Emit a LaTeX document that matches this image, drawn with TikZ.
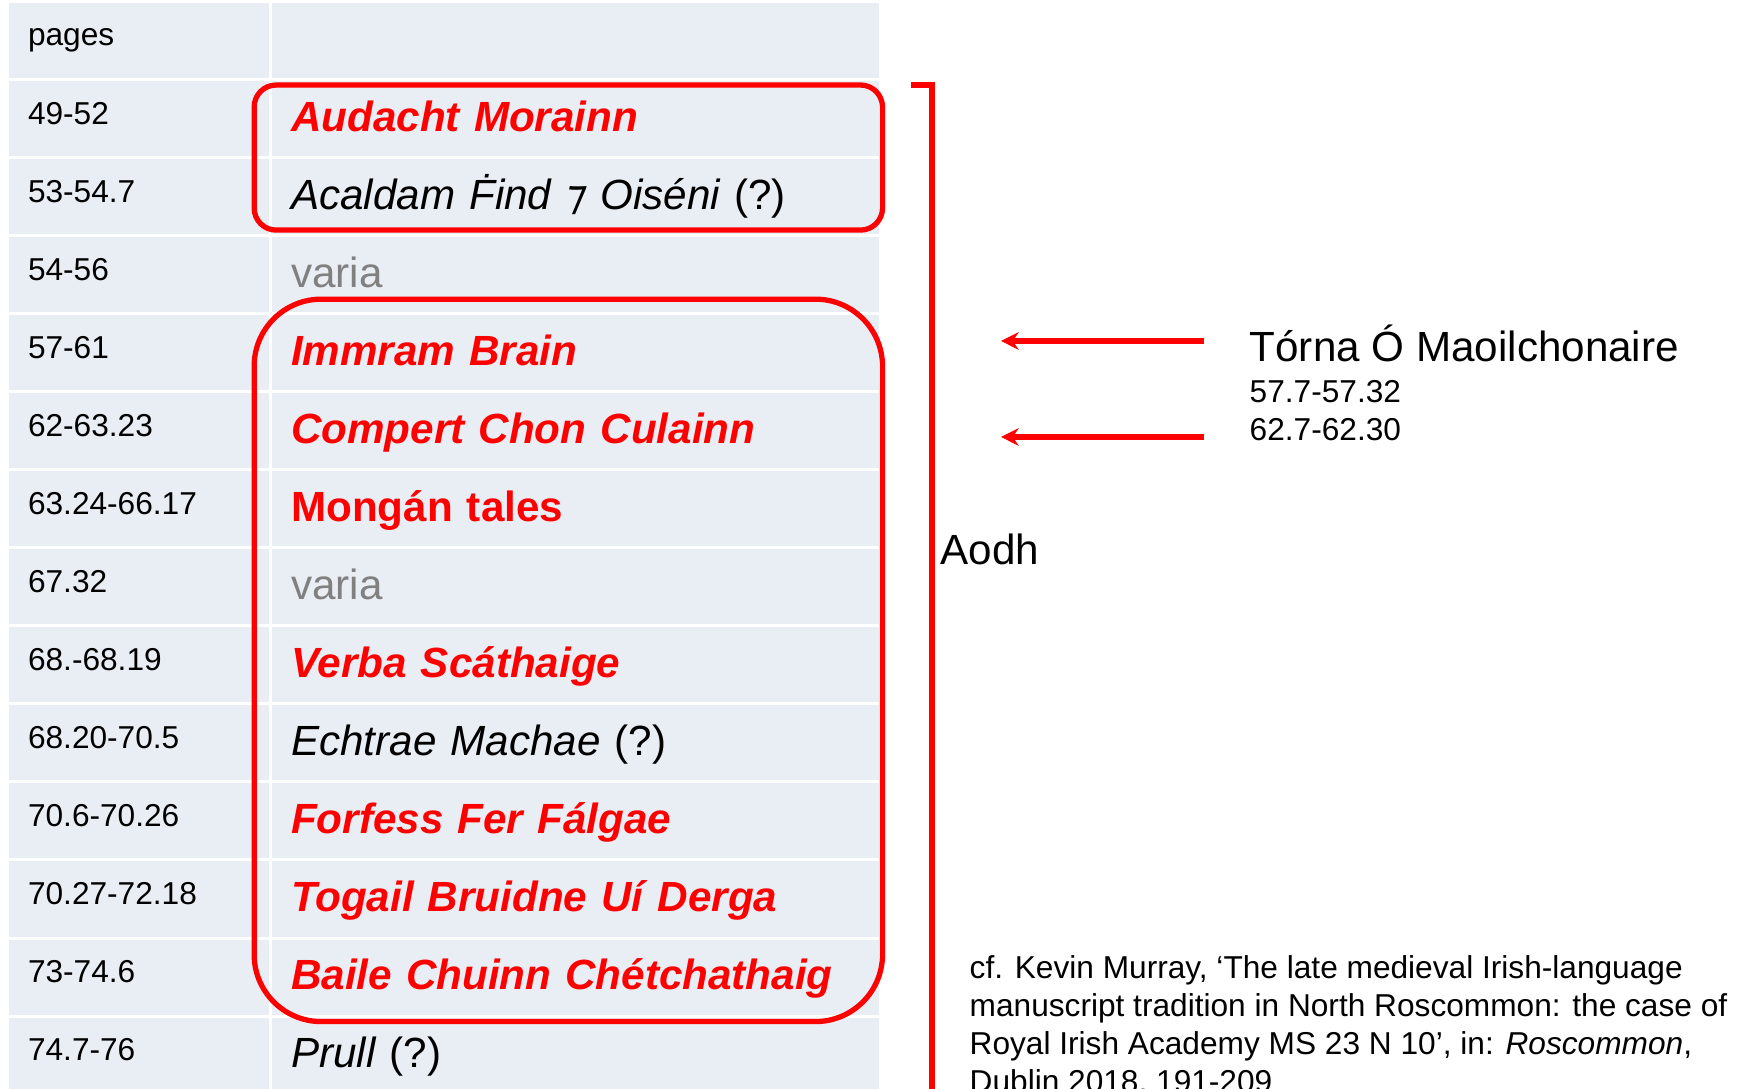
\documentclass[tikz,border=0pt]{standalone}
\usepackage{xcolor}
\usepackage{fontspec}
\setmainfont{Liberation Sans}
\newfontfamily\tironfont{DejaVu Sans}
\usepackage{tikz}
\usetikzlibrary{arrows.meta,positioning,calc}

\definecolor{cellbg}{RGB}{233,237,244}

\begin{document}
\begin{tikzpicture}[
        x=0.01cm, y=0.01cm,
        >=Stealth,
        node distance=0.03cm and 0.03cm,
        pagecell/.style={
            fill=cellbg,
            outer sep=0pt,
            inner xsep=0.19cm,
            inner ysep=0pt,
            minimum width=2.6cm,
            minimum height=0.75cm,
            text width=2.22cm,
            align=left,
            text height=0.23cm,
            text depth=0.12cm,
            font=\fontsize{9}{11}\selectfont
        },
        titlecell/.style={
            fill=cellbg,
            outer sep=0pt,
            inner xsep=0.19cm,
            inner ysep=0pt,
            minimum width=6.06cm,
            minimum height=0.75cm,
            text width=5.68cm,
            align=left,
            text height=0.3cm,
            text depth=0.05cm,
            font=\fontsize{12}{14}\selectfont
        },
        redtitle/.style={text=red, font=\fontsize{12}{14}\selectfont\bfseries\itshape},
        redbold/.style={text=red, font=\fontsize{12}{14}\selectfont\bfseries},
        blacktitle/.style={font=\fontsize{12}{14}\selectfont\itshape},
        variacell/.style={text=gray},
        groupbox/.style={draw=red, line width=1.5pt},
        arrowred/.style={-{Stealth[length=5pt,width=5pt]}, draw=red, line width=1.7pt},
        sidetext/.style={inner sep=0pt, anchor=base west}
    ]
        \useasboundingbox (0,0) rectangle (1748,1089);
        \fill[white] (0,0) rectangle (1748,1089);

        % Coluna das páginas
        \node[pagecell, anchor=north west] (p0) at (9,1086) {pages};
        \node[pagecell, below=of p0] (p1) {49-52};
        \node[pagecell, below=of p1] (p2) {53-54.7};
        \node[pagecell, below=of p2] (p3) {54-56};
        \node[pagecell, below=of p3] (p4) {57-61};
        \node[pagecell, below=of p4] (p5) {62-63.23};
        \node[pagecell, below=of p5] (p6) {63.24-66.17};
        \node[pagecell, below=of p6] (p7) {67.32};
        \node[pagecell, below=of p7] (p8) {68.-68.19};
        \node[pagecell, below=of p8] (p9) {68.20-70.5};
        \node[pagecell, below=of p9] (p10) {70.6-70.26};
        \node[pagecell, below=of p10] (p11) {70.27-72.18};
        \node[pagecell, below=of p11] (p12) {73-74.6};
        \node[pagecell, below=of p12] (p13) {74.7-76};

        % Coluna dos textos
        \node[titlecell, right=of p0] (t0) {};
        \node[titlecell, redtitle, right=of p1] (t1) {Audacht Morainn};
        \node[titlecell, blacktitle, right=of p2] (t2) {Acaldam Ḟind {\tironfont ⁊} Oiséni {\upshape (?)}};
        \node[titlecell, variacell, right=of p3] (t3) {varia};
        \node[titlecell, redtitle, right=of p4] (t4) {Immram Brain};
        \node[titlecell, redtitle, right=of p5] (t5) {Compert Chon Culainn};
        \node[titlecell, redbold, right=of p6] (t6) {Mongán tales};
        \node[titlecell, variacell, right=of p7] (t7) {varia};
        \node[titlecell, redtitle, right=of p8] (t8) {Verba Scáthaige};
        \node[titlecell, blacktitle, right=of p9] (t9) {Echtrae Machae {\upshape (?)}};
        \node[titlecell, redtitle, right=of p10] (t10) {Forfess Fer Fálgae};
        \node[titlecell, redtitle, right=of p11] (t11) {Togail Bruidne Uí Derga};
        \node[titlecell, redtitle, right=of p12] (t12) {Baile Chuinn Chétchathaig};
        \node[titlecell, blacktitle, right=of p13] (t13) {Prull {\upshape (?)}};

        % Grupos e chave
        \draw[groupbox, rounded corners=0.22cm] ($(t1.north west)+(-18,-4)$) rectangle ($(t2.south east)+(4,4)$);
        \draw[groupbox, rounded corners=0.67cm] ($(t4.north west)+(-18,16)$) rectangle ($(t12.south east)+(4,-7)$);
        \coordinate (brtop) at (911,1004);
        \coordinate (brbot) at (932,-10);
        \draw[groupbox] (brtop) -| (brbot);

        % Textos laterais
        \node[sidetext, font=\fontsize{12}{14}\selectfont] (aodh) at (940,524) {Aodh};
        \node[sidetext, font=\fontsize{12}{14}\selectfont] (torna) at (1249,727) {Tórna Ó Maoilchonaire};
        \node[sidetext, font=\fontsize{9}{11}\selectfont] (rangeA) at (1249,686.5) {57.7-57.32};
        \node[sidetext, font=\fontsize{9}{11}\selectfont] (rangeB) at (1249,648.5) {62.7-62.30};
        \node[inner sep=0pt, anchor=north west, align=left, font=\fontsize{9}{10.8}\selectfont] (murray) at (969,134)
            {cf. Kevin Murray, ‘The late medieval Irish-language\\
             manuscript tradition in North Roscommon: the case of\\
             Royal Irish Academy MS 23 N 10’, in: \textit{Roscommon},\\
             Dublin 2018, 191-209};

        % Setas
        \coordinate (tipA) at (1001,748);
        \coordinate (tipB) at (1001,652);
        \draw[arrowred] ($(torna.west |- tipA)+(-45,0)$) -- (tipA);
        \draw[arrowred] ($(rangeB.west |- tipB)+(-45,0)$) -- (tipB);
    \end{tikzpicture}
\end{document}
